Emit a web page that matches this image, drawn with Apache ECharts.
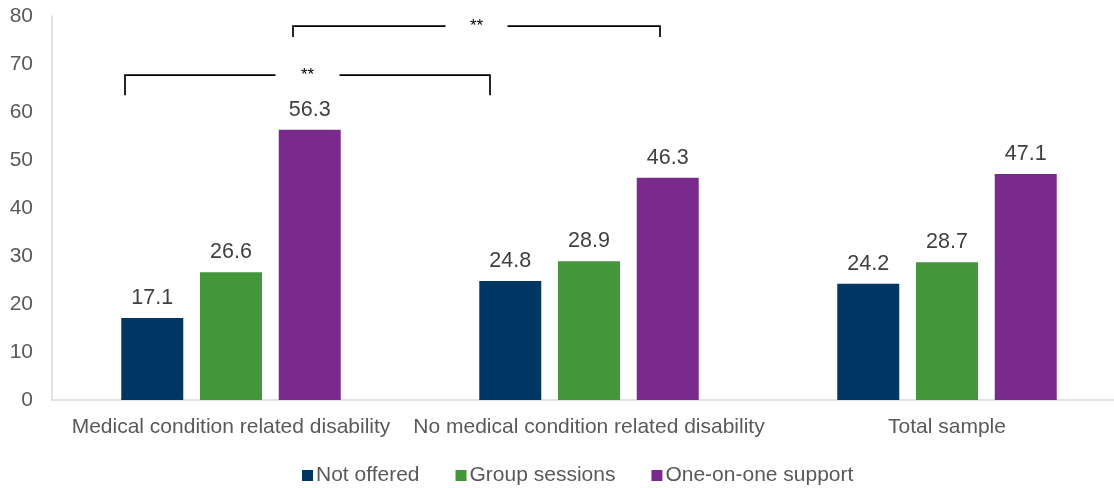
<!DOCTYPE html>
<html>
<head>
<meta charset="utf-8">
<script src="https://cdn.jsdelivr.net/npm/echarts@6/dist/echarts.min.js"></script>
<style>
html,body{margin:0;padding:0;background:#fff;overflow:hidden;width:1114px;height:488px;}
#chart{width:1126px;height:488px;}
</style>
</head>
<body>
<div id="chart"></div>
<script>
const categories = ["Medical condition related disability", "No medical condition related disability", "Total sample"];
const notOffered = [17.1, 24.8, 24.2];
const groupSessions = [26.6, 28.9, 28.7];
const oneOnOne = [56.3, 46.3, 47.1];
const yTicks = [0, 10, 20, 30, 40, 50, 60, 70, 80];
const sigLabel = "**";

const FONT = "Liberation Sans, Arial, sans-serif";
const FS = 21;
const chart = echarts.init(document.getElementById('chart'), null, {renderer: 'canvas'});

const labelCfg = {show: true, position: 'top', distance: 9, color: '#404040', fontSize: 21.5, fontFamily: FONT,
  formatter: p => p.value.toFixed(1)};

const option = {
  animation: false,
  grid: {left: 52, top: 16, bottom: 88, right: 0, containLabel: false},
  legend: {
    top: 460, left: 297,
    itemWidth: 11, itemHeight: 11, itemGap: 36,
    icon: 'rect',
    textStyle: {color: '#595959', fontSize: FS, fontFamily: FONT, padding: [0, 0, 0, -2]},
    data: ['Not offered', 'Group sessions', 'One-on-one support']
  },
  xAxis: {
    type: 'category', data: categories,
    axisLine: {show: true, lineStyle: {color: '#d9d9d9', width: 1.5}},
    axisTick: {show: false},
    axisLabel: {color: '#595959', fontSize: FS, fontFamily: FONT, margin: 17, interval: 0}
  },
  yAxis: {
    type: 'value', min: yTicks[0], max: yTicks[yTicks.length - 1], interval: 10,
    axisLine: {show: true, lineStyle: {color: '#d9d9d9', width: 1.5}},
    axisTick: {show: false},
    splitLine: {show: false},
    axisLabel: {color: '#595959', fontSize: FS, fontFamily: FONT, margin: 19}
  },
  series: [
    {name: 'Not offered', type: 'bar', data: notOffered, barWidth: 62, barGap: '27%', itemStyle: {color: '#003663'}, label: labelCfg},
    {name: 'Group sessions', type: 'bar', data: groupSessions, barWidth: 62, barGap: '27%', itemStyle: {color: '#43963a'}, label: labelCfg},
    {name: 'One-on-one support', type: 'bar', data: oneOnOne, barWidth: 62, barGap: '27%', itemStyle: {color: '#7a2a8c'}, label: labelCfg}
  ]
};
chart.setOption(option);

function bracket(cat1, off1, cat2, off2, yTop, yLeg, gapHalf) {
  const x1 = chart.convertToPixel({xAxisIndex: 0}, cat1) + off1;
  const x2 = chart.convertToPixel({xAxisIndex: 0}, cat2) + off2;
  const yt = chart.convertToPixel({yAxisIndex: 0}, yTop);
  const yl = chart.convertToPixel({yAxisIndex: 0}, yLeg);
  const mid = (x1 + x2) / 2;
  const ls = {stroke: '#000', lineWidth: 1.7, fill: null};
  return [
    {type: 'polyline', shape: {points: [[x1, yl], [x1, yt], [mid - gapHalf, yt]]}, style: ls, silent: true},
    {type: 'polyline', shape: {points: [[mid + gapHalf, yt], [x2, yt], [x2, yl]]}, style: ls, silent: true},
    {type: 'text', x: mid, y: yt, style: {text: sigLabel, fill: '#000', font: '17px ' + FONT, align: 'center', verticalAlign: 'middle'}, silent: true}
  ];
}
const g = [].concat(
  bracket(categories[0], -106, categories[1], -99, 67.7, 63.5, 32),
  bracket(categories[0], 62, categories[1], 71, 77.9, 75.6, 31)
);
chart.setOption({graphic: g});
</script>
</body>
</html>
